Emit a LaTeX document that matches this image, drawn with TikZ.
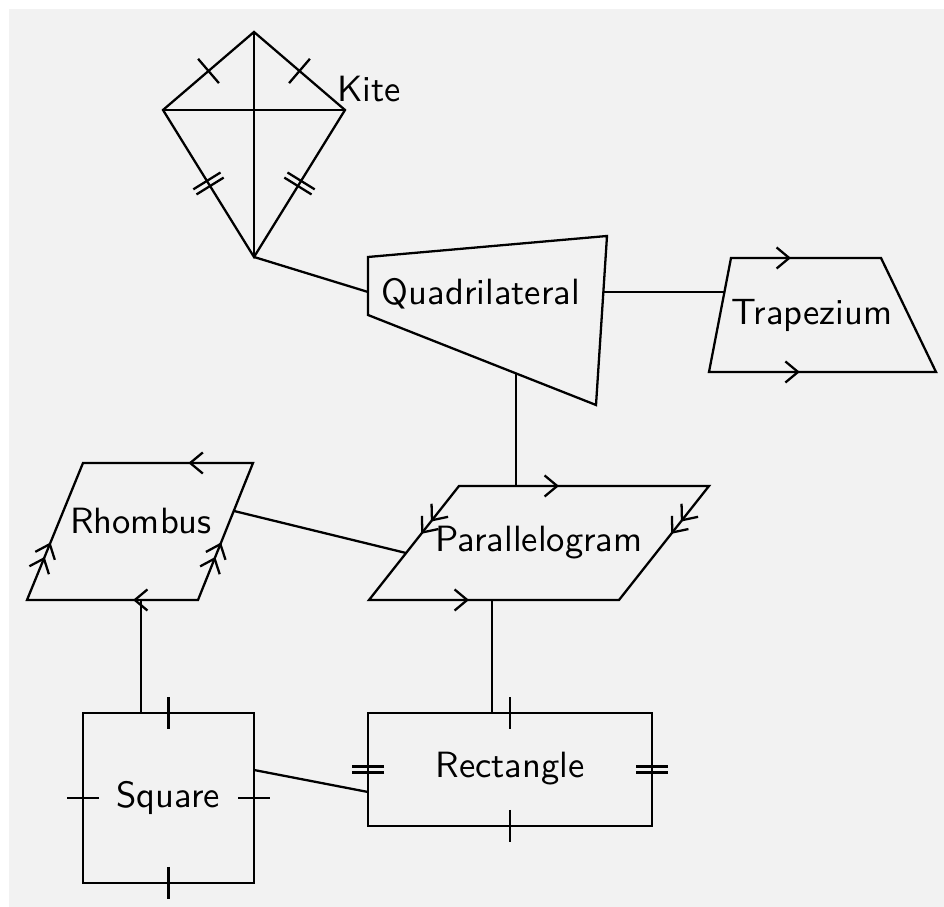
\documentclass[tikz,border=0pt]{standalone}
\usetikzlibrary{decorations.markings,arrows.meta}
\tikzset{
  onetick/.style={postaction={decorate,decoration={markings,
      mark=at position #1 with {\draw (0,-0.16) -- (0,0.16);}}}},
  twotick/.style={postaction={decorate,decoration={markings,
      mark=at position #1 with {\draw (-0.03,-0.16) -- (-0.03,0.16) (0.03,-0.16) -- (0.03,0.16);}}}},
  onearrow/.style={postaction={decorate,decoration={markings,
      mark=at position #1 with {\arrow{>}}}}},
  twoarrow/.style={postaction={decorate,decoration={markings,
      mark=at position #1 with {\arrow{>>}}}}}
}

\begin{document}
\begin{tikzpicture}[line width=0.65pt, font=\sffamily\fontsize{10.4}{12}\selectfont,
    >={Straight Barb[length=3.6pt,width=6pt]}]
  \fill[black!5] (0.09,0) rectangle (9.44,8.98);
  \useasboundingbox (0,0) rectangle (9.44,9.07);
  % kite
  \path (2.54,8.75) coordinate(kt) (1.63,7.97) coordinate(kl)
    (3.45,7.97) coordinate(kr) (2.54,6.50) coordinate(kb);
  \draw (kt) -- (kl) -- (kb) -- (kr) -- cycle;
  \draw (kt) -- (kb) (kl) -- (kr);
  \path[onetick=0.5] (kt) -- (kl);
  \path[onetick=0.5] (kt) -- (kr);
  \path[twotick=0.5] (kl) -- (kb);
  \path[twotick=0.5] (kr) -- (kb);
  \node (kite) at (3.69,8.18) {Kite};
  % quadrilateral
  \path (3.68,6.50) coordinate(q1) (6.07,6.71) coordinate(q2)
    (5.96,5.02) coordinate(q3) (3.68,5.92) coordinate(q4);
  \draw (q1) -- (q2) -- (q3) -- (q4) -- cycle;
  \node (quad) at (4.81,6.13) {Quadrilateral};
  % trapezium
  \path (7.31,6.49) coordinate(t1) (8.81,6.49) coordinate(t2)
    (9.36,5.35) coordinate(t3) (7.09,5.35) coordinate(t4);
  \draw (t1) -- (t2) -- (t3) -- (t4) -- cycle;
  \path[onearrow=0.4] (t1) -- (t2);
  \path[onearrow=0.4] (t4) -- (t3);
  \node (trap) at (8.12,5.92) {Trapezium};
  % parallelogram
  \path (4.59,4.21) coordinate(p1) (7.09,4.21) coordinate(p2)
    (6.19,3.07) coordinate(p3) (3.69,3.07) coordinate(p4);
  \draw (p1) -- (p2) -- (p3) -- (p4) -- cycle;
  \path[onearrow=0.4] (p1) -- (p2);
  \path[onearrow=0.4] (p4) -- (p3);
  \path[twoarrow=0.42] (p1) -- (p4);
  \path[twoarrow=0.42] (p2) -- (p3);
  \node (para) at (5.39,3.64) {Parallelogram};
  % rhombus
  \path (0.83,4.44) coordinate(r1) (2.53,4.44) coordinate(r2)
    (1.98,3.07) coordinate(r3) (0.27,3.07) coordinate(r4);
  \draw (r1) -- (r2) -- (r3) -- (r4) -- cycle;
  \path[onearrow=0.38] (r2) -- (r1);
  \path[onearrow=0.38] (r3) -- (r4);
  \path[twoarrow=0.42] (r4) -- (r1);
  \path[twoarrow=0.42] (r3) -- (r2);
  \node (rhom) at (1.41,3.86) {Rhombus};
  % square
  \path (0.83,1.94) coordinate(s1) (2.54,1.94) coordinate(s2)
    (2.54,0.24) coordinate(s3) (0.83,0.24) coordinate(s4);
  \draw (s1) -- (s2) -- (s3) -- (s4) -- cycle;
  \path[onetick=0.5] (s1) -- (s2);
  \path[onetick=0.5] (s2) -- (s3);
  \path[onetick=0.5] (s3) -- (s4);
  \path[onetick=0.5] (s4) -- (s1);
  \node (squ) at (1.68,1.09) {Square};
  % rectangle
  \path (3.68,1.94) coordinate(e1) (6.52,1.94) coordinate(e2)
    (6.52,0.81) coordinate(e3) (3.68,0.81) coordinate(e4);
  \draw (e1) -- (e2) -- (e3) -- (e4) -- cycle;
  \path[onetick=0.5] (e1) -- (e2);
  \path[twotick=0.5] (e2) -- (e3);
  \path[onetick=0.5] (e3) -- (e4);
  \path[twotick=0.5] (e4) -- (e1);
  \node (rect) at (5.10,1.38) {Rectangle};
  % connectors
  \path (3.68,6.15) coordinate(qw) (6.03,6.15) coordinate(qe)
    (7.24,6.15) coordinate(tw) (5.16,5.34) coordinate(qs)
    (5.16,4.21) coordinate(pn) (4.06,3.54) coordinate(pw)
    (2.34,3.96) coordinate(re) (1.41,3.07) coordinate(rs)
    (1.41,1.94) coordinate(sn) (4.92,3.07) coordinate(ps)
    (4.92,1.94) coordinate(en) (2.54,1.37) coordinate(se)
    (3.68,1.15) coordinate(ew);
  \draw (kb) -- (qw);
  \draw (qe) -- (tw);
  \draw (qs) -- (pn);
  \draw (re) -- (pw);
  \draw (rs) -- (sn);
  \draw (ps) -- (en);
  \draw (se) -- (ew);
\end{tikzpicture}
\end{document}
